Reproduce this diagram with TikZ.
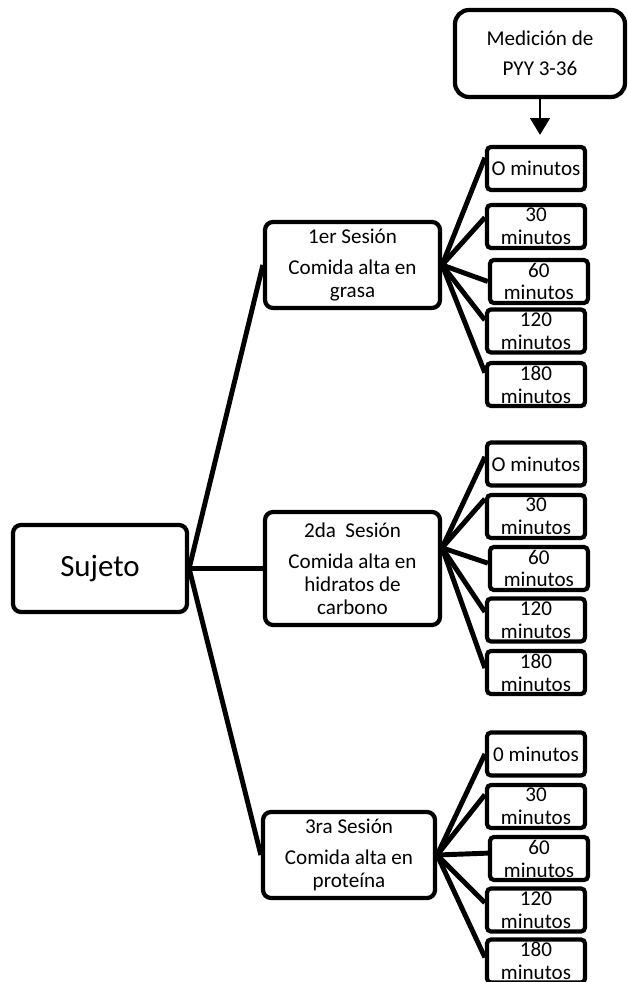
\documentclass[tikz,border=0pt]{standalone}
\usepackage{fontspec}
\setmainfont{Carlito}
\usetikzlibrary{shapes.geometric, arrows.meta, positioning}
\tikzstyle{subj} = [rectangle, rounded corners=0.2cm,
minimum width=4.35cm,
minimum height=2.175cm,
text centered,
draw=black, line width=3pt,
font=\fontsize{22}{26}\selectfont]
\tikzstyle{ses} = [rectangle, rounded corners=0.2cm,
minimum width=4.375cm,
minimum height=2.15cm,
align=center,
draw=black, line width=3pt,
font=\fontsize{15}{16.3}\selectfont]
\tikzstyle{tim} = [rectangle, rounded corners=0.1cm,
minimum width=2.45cm,
minimum height=1.075cm,
inner sep=0pt,
align=center,
draw=black, line width=3pt,
font=\fontsize{15}{16.3}\selectfont]
\tikzstyle{meas} = [rectangle, rounded corners=0.35cm,
minimum width=4.25cm,
minimum height=2.175cm,
align=center,
draw=black, line width=3pt,
font=\fontsize{15}{17}\selectfont]
\tikzstyle{lnk} = [line width=3.5pt]
\tikzstyle{arr} = [line width=2pt, -{Triangle[width=14pt,length=12pt]}]

\begin{document}
\begin{tikzpicture}[node distance=2cm]
\useasboundingbox (-2.5,-10.3375) rectangle (13.175,14.2125);

\node (suj) [subj] {Sujeto};
\node (ses1) [ses, right of=suj, xshift=4.3125cm, yshift=7.5875cm] {1er Sesión\\[6pt]Comida alta en\\grasa};
\node (ses2) [ses, right of=suj, xshift=4.3125cm, minimum height=2.825cm] {2da~ Sesión\\[6pt]Comida alta en\\hidratos de\\carbono};
\node (ses3) [ses, right of=suj, xshift=4.225cm, yshift=-7.1625cm, minimum width=4.3cm] {3ra Sesión\\[6pt]Comida alta en\\proteína};
\draw[lnk] (suj.east) -- (ses1.west);
\draw[lnk] (suj.east) -- (ses2.west);
\draw[lnk] (suj.east) -- (ses3.west);

% 1er sesion
\node (t11) [tim, right of=ses1, xshift=2.5875cm, yshift=2.4125cm] {O minutos};
\node (t12) [tim, right of=ses1, xshift=2.5875cm, yshift=0.9625cm] {30\\minutos};
\node (t13) [tim, right of=ses1, xshift=2.66cm, yshift=-0.4125cm] {60\\minutos};
\node (t14) [tim, right of=ses1, xshift=2.5875cm, yshift=-1.65cm] {120\\minutos};
\node (t15) [tim, right of=ses1, xshift=2.5875cm, yshift=-2.9875cm] {180\\minutos};
\draw[lnk] (ses1.east) -- (t11.168);
\draw[lnk] (ses1.east) -- (t12.170);
\draw[lnk] (ses1.east) -- (t13.west);
\draw[lnk] (ses1.east) -- (t14.168);
\draw[lnk] (ses1.east) -- (t15.167);

\node (med) [meas, above of=t11, xshift=0.1cm, yshift=0.875cm] {Medición de\\[4pt]PYY 3-36};
\draw[arr, shorten >=0.25cm] (med.south) -- (med.south |- t11.north);

% 2da sesion
\node (t21) [tim, right of=ses2, xshift=2.5875cm, yshift=2.6125cm] {O minutos};
\node (t22) [tim, right of=ses2, xshift=2.5875cm, yshift=1.3cm] {30\\minutos};
\node (t23) [tim, right of=ses2, xshift=2.66cm] {60\\minutos};
\node (t24) [tim, right of=ses2, xshift=2.5875cm, yshift=-1.2875cm] {120\\minutos};
\node (t25) [tim, right of=ses2, xshift=2.5875cm, yshift=-2.6cm] {180\\minutos};
\draw[lnk] (ses2.13) -- (t21.172);
\draw[lnk] (ses2.13) -- (t22.161);
\draw[lnk] (ses2.13) -- (t23.174);
\draw[lnk] (ses2.13) -- (t24.171);
\draw[lnk] (ses2.13) -- (t25.175);

% 3ra sesion
\node (t31) [tim, right of=ses3, xshift=2.675cm, yshift=2.525cm] {0 minutos};
\node (t32) [tim, right of=ses3, xshift=2.675cm, yshift=1.2125cm] {30\\minutos};
\node (t33) [tim, right of=ses3, xshift=2.75cm, yshift=-0.0875cm] {60\\minutos};
\node (t34) [tim, right of=ses3, xshift=2.675cm, yshift=-1.375cm] {120\\minutos};
\node (t35) [tim, right of=ses3, xshift=2.675cm, yshift=-2.65cm] {180\\minutos};
\draw[lnk] (ses3.east) -- (t31.west);
\draw[lnk] (ses3.east) -- (t32.167);
\draw[lnk] (ses3.east) -- (t33.174);
\draw[lnk] (ses3.east) -- (t34.172);
\draw[lnk] (ses3.east) -- (t35.176);

\end{tikzpicture}
\end{document}
